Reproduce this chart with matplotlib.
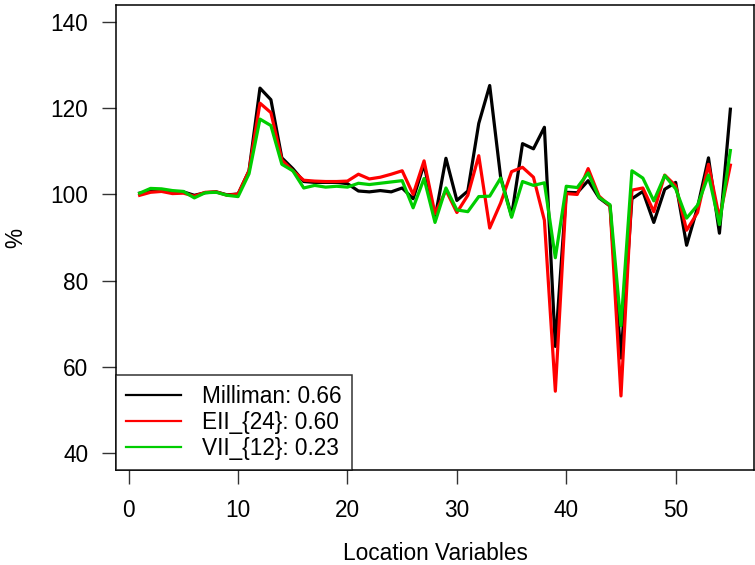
import matplotlib
matplotlib.use("Agg")
import matplotlib.pyplot as plt
import numpy as np

plt.rcParams['font.family'] = ['Liberation Sans', 'DejaVu Sans']

x = list(range(1, 56))
milliman = [100.3, 100.8, 101.0, 100.5, 100.6, 99.8, 100.4, 100.6, 99.9, 100.1,
            105.5, 124.7, 122.0, 108.5, 106.0, 103.0, 102.8, 102.8, 102.8, 102.5,
            100.8, 100.6, 100.9, 100.6, 101.5, 99.0, 107.0, 94.5, 108.4, 98.6,
            100.8, 116.5, 125.3, 104.0, 95.0, 111.8, 110.6, 115.6, 64.7, 100.5,
            100.4, 103.2, 99.2, 97.3, 62.0, 99.0, 100.7, 93.5, 101.2, 102.8,
            88.2, 97.0, 108.5, 91.0, 119.8]
eii24 = [99.8, 100.5, 100.7, 100.2, 100.3, 99.6, 100.5, 100.6, 99.8, 100.1,
         105.5, 121.2, 119.0, 108.0, 105.5, 103.3, 103.1, 103.0, 103.0, 103.1,
         104.7, 103.6, 104.0, 104.7, 105.5, 100.0, 107.8, 95.5, 101.0, 95.8,
         99.8, 109.0, 92.2, 98.0, 105.3, 106.3, 104.0, 94.0, 54.3, 100.2,
         100.0, 106.0, 99.6, 97.3, 53.2, 101.0, 101.5, 96.0, 104.5, 102.0,
         91.7, 95.8, 107.0, 94.5, 106.8]
vii12 = [100.3, 101.4, 101.3, 100.9, 100.7, 99.2, 100.4, 100.5, 99.8, 99.5,
         104.8, 117.5, 116.0, 107.0, 105.5, 101.5, 102.1, 101.7, 101.9, 101.7,
         102.6, 102.3, 102.6, 102.9, 103.2, 96.9, 103.7, 93.5, 101.5, 96.4,
         96.0, 99.5, 99.6, 103.8, 94.7, 103.0, 102.1, 102.7, 85.3, 101.9,
         101.6, 105.0, 99.3, 97.6, 69.5, 105.5, 103.8, 98.5, 104.4, 101.3,
         94.5, 97.5, 104.5, 93.0, 110.2]

labels = ["Milliman: 0.66", "EII_{24}: 0.60", "VII_{12}: 0.23"]
colors = ["#000000", "#FF0000", "#00CD00"]
series = [milliman, eii24, vii12]

FS = 16.3

fig = plt.figure(figsize=(7.55, 5.65), dpi=100)
ax = fig.add_axes([116/755, 95/565, (754-116)/755, (470-5)/565])

for y, c, lab in zip(series, colors, labels):
    ax.plot(x, y, color=c, lw=2.3, label=lab)

ax.set_xlim(-1.16, 57.16)
ax.set_ylim(36, 144)
ax.set_xticks([0, 10, 20, 30, 40, 50])
ax.set_yticks([40, 60, 80, 100, 120, 140])
ax.tick_params(axis='both', direction='out', length=10, width=1, labelsize=FS,
               color='#333333')
ax.tick_params(axis='y', pad=10)
ax.tick_params(axis='x', pad=11)
for s in ax.spines.values():
    s.set_linewidth(1.1)
    s.set_color('black')

fig.text(435/755, 1 - 553/565, "Location Variables", fontsize=FS,
         ha='center', va='center')
fig.text(16/755, 1 - 238/565, "%", fontsize=FS, rotation=90,
         ha='center', va='center')

leg = ax.legend(loc='lower left', bbox_to_anchor=(0, 0), borderaxespad=0,
                fontsize=FS, frameon=True, fancybox=False, handlelength=2.4,
                handletextpad=0.95, borderpad=0.45, labelspacing=0.12)
leg.get_frame().set_edgecolor('black')
leg.get_frame().set_linewidth(1.1)
for h in leg.get_lines():
    h.set_linewidth(1.6)

fig.savefig("out.png", dpi=100)
